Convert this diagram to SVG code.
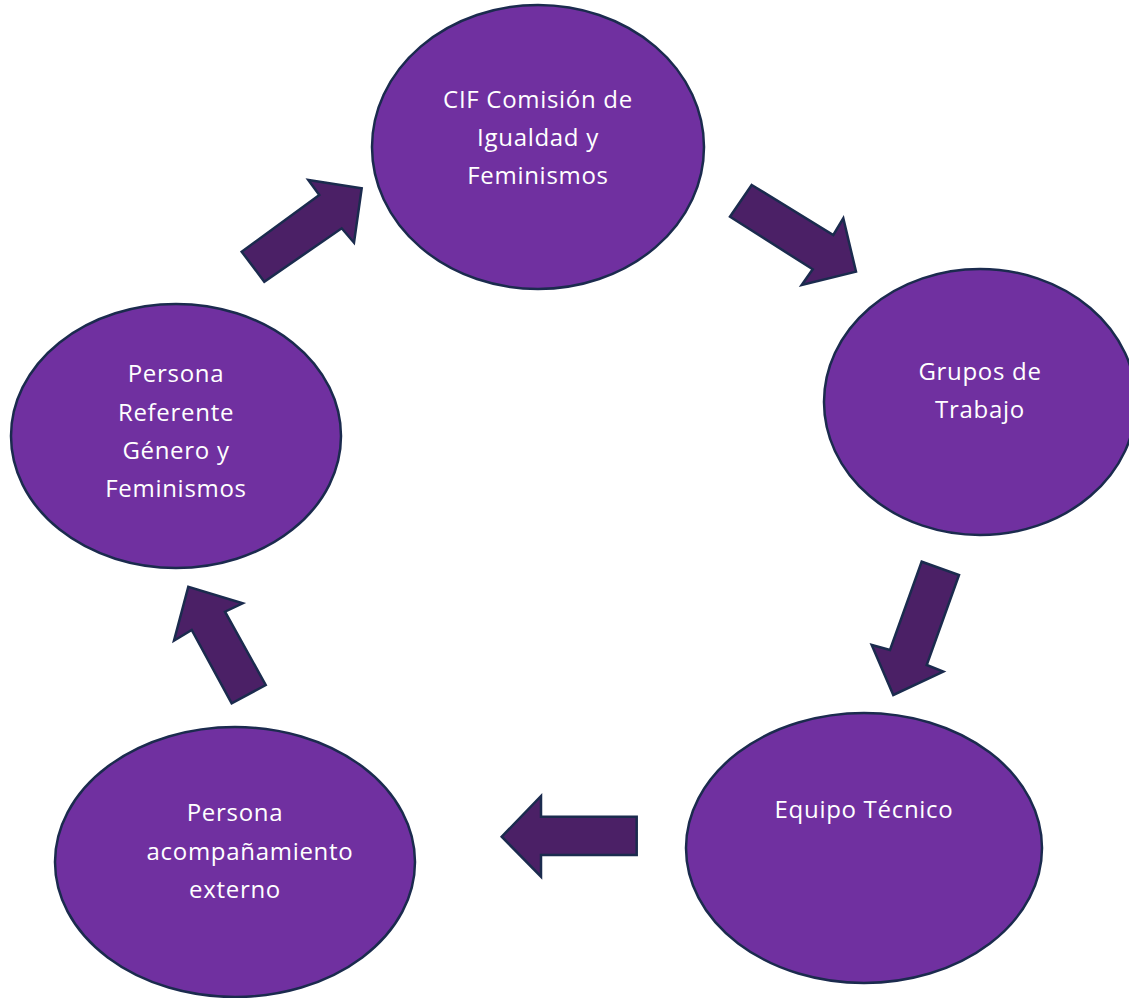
<svg xmlns="http://www.w3.org/2000/svg" width="1129" height="998" viewBox="0 0 1129 998">
<style>
.node{fill:#7030A0;stroke:#1B2B4E;stroke-width:2.5}
.arrow{fill:#4B2066;stroke:#1B2B4E;stroke-width:2.5;stroke-linejoin:miter}
text{font-family:"Open Sans",Lato,"Liberation Sans",sans-serif;font-size:24px;letter-spacing:0.7px;fill:#FFFFFF;text-anchor:middle}
</style>
<rect width="1129" height="998" fill="#FFFFFF"/>
<g id="n-cif">
<ellipse class="node" cx="538" cy="147" rx="166" ry="142"/>
<text x="538" y="108">CIF Comisión de</text>
<text x="538" y="146">Igualdad y</text>
<text x="538" y="184">Feminismos</text>
</g>
<g id="n-grupos">
<ellipse class="node" cx="980" cy="402" rx="156" ry="133"/>
<text x="980" y="380">Grupos de</text>
<text x="980" y="418">Trabajo</text>
</g>
<g id="n-equipo">
<ellipse class="node" cx="864" cy="848" rx="178" ry="135"/>
<text x="864" y="818">Equipo Técnico</text>
</g>
<g id="n-acomp">
<ellipse class="node" cx="235" cy="862" rx="180" ry="135"/>
<text x="235" y="821">Persona</text>
<text x="250" y="860">acompañamiento</text>
<text x="235" y="898">externo</text>
</g>
<g id="n-referente">
<ellipse class="node" cx="176" cy="436" rx="165" ry="132"/>
<text x="176" y="382">Persona</text>
<text x="176" y="421">Referente</text>
<text x="176" y="459">Género y</text>
<text x="176" y="497">Feminismos</text>
</g>
<g id="connectors">
<polygon class="arrow" points="241.7,251.7 319.3,195 308.3,180 361.7,188.3 354,242.7 341.7,228.3 264.3,281.7"/>
<polygon class="arrow" points="751.7,185 833.3,235 843.3,218.3 856,271.7 801.7,285 812.7,269.3 730,216.7"/>
<polygon class="arrow" points="959,575 926.7,665 943.3,671.7 893.3,695 871.7,645 890,650 921.7,561.7"/>
<polygon class="arrow" points="636.7,855 541,855 541,876.7 501.7,836.7 541,796 541,816.7 636.7,816.7"/>
<polygon class="arrow" points="231.7,703.3 191.7,630 174,640.7 188.3,586.7 242.7,603.3 225,611.7 265.7,685"/>
</g>
</svg>
